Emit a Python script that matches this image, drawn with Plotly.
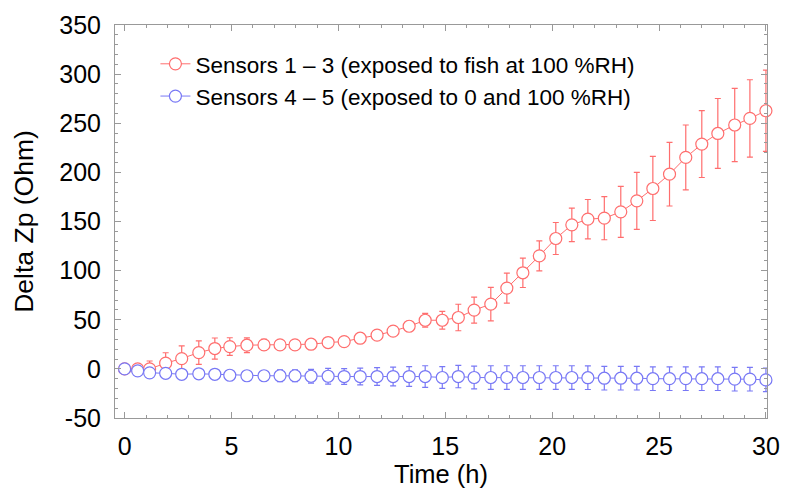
import plotly.graph_objects as go

time_h = [0, 0.61, 1.17, 1.92, 2.67, 3.47, 4.22, 4.92, 5.72, 6.52, 7.27, 7.97, 8.72, 9.52,
          10.27, 11.02, 11.81, 12.56, 13.31, 14.06, 14.86, 15.61, 16.35, 17.13, 17.88, 18.63,
          19.40, 20.17, 20.92, 21.67, 22.44, 23.21, 23.96, 24.71, 25.49, 26.25, 27.00, 27.75,
          28.54, 29.25, 30.0]

fish_mean = [0, 0, 0, 5.8, 10.5, 16.6, 20.7, 22.7, 24.1, 24.4, 24.4, 24.4, 25.1, 26.8,
             27.8, 31.2, 34.3, 38.4, 43.4, 49.5, 49.5, 52.3, 59.8, 65.9, 82.2, 97.8,
             115, 132.7, 146.6, 152.4, 153.4, 159.8, 171, 183.6, 198.2, 215.2, 228.8, 239.6,
             248.2, 254.9, 262.7]
fish_err = [0, 2, 8, 10.6, 13, 12, 10.7, 9, 7.5, 5.7, 4, 3, 3, 3,
            3, 3, 4, 4, 5, 7, 9, 13.5, 13.3, 17, 15.3, 15,
            15.3, 16.3, 17, 20, 22, 26, 29, 32.6, 32.4, 33, 34, 35.6,
            37.3, 39.4, 41.4]

ctrl_mean = [0, -2, -4, -4.5, -5.5, -5, -5.5, -6.5, -7, -7, -7, -7, -7.5, -7.5,
             -7.8, -7.8, -7.8, -7.8, -7.8, -7.8, -8.8, -7.8, -8.8, -8.8, -8.8, -8.8,
             -8.8, -8.8, -8.8, -9, -9.5, -9.5, -9.5, -10, -10, -10, -10, -10,
             -10.5, -10.5, -11.2]
ctrl_err = [0, 0.5, 1, 1, 1, 1, 1.5, 2, 4, 5, 6, 6, 7, 8,
            8, 8.5, 9, 9.5, 10, 11, 11, 11.4, 11.5, 12, 12, 12,
            12, 12, 12, 12, 12, 12, 12, 12, 12, 12, 12, 12,
            12, 12, 12]

y_tickvals = [-50, 0, 50, 100, 150, 200, 250, 300, 350]
y_ticktext = ["-50", "0", "50", "100", "150", "200", "250", "300", "350"]
x_tickvals = [0, 5, 10, 15, 20, 25, 30]

red = "rgb(255,110,110)"
blue = "rgb(120,120,245)"
FONT = "Liberation Sans, Arial, sans-serif"

fig = go.Figure()
fig.add_trace(go.Scatter(
    x=time_h, y=fish_mean, mode="lines+markers", cliponaxis=False,
    name="Sensors 1 \u2013 3 (exposed to fish at 100 %RH)", legendgroup="a",
    line=dict(color=red, width=1),
    marker=dict(symbol="circle", size=12, color="white", line=dict(color=red, width=1.2)),
    error_y=dict(type="data", array=fish_err, visible=True, color=red, thickness=1.2, width=3),
))
fig.add_trace(go.Scatter(
    x=time_h, y=ctrl_mean, mode="lines+markers", cliponaxis=False,
    name="Sensors 4 \u2013 5 (exposed to 0 and 100 %RH)", legendgroup="b",
    line=dict(color=blue, width=1),
    marker=dict(symbol="circle", size=12, color="white", line=dict(color=blue, width=1.2)),
    error_y=dict(type="data", array=ctrl_err, visible=True, color=blue, thickness=1.2, width=3),
))

axis_common = dict(
    showline=True, linecolor="#999999", linewidth=1, mirror="allticks",
    ticks="inside", ticklen=6, tickcolor="#999999", showgrid=False, zeroline=False,
    tickfont=dict(family=FONT, size=25, color="black"), automargin=False,
)

fig.update_layout(
    width=785, height=489,
    margin=dict(l=115, r=18, t=25, b=71),
    paper_bgcolor="white", plot_bgcolor="white",
    font=dict(family=FONT, color="black"),
    showlegend=True,
    legend=dict(x=0.062, y=0.955, xanchor="left", yanchor="top",
                bgcolor="rgba(0,0,0,0)", font=dict(size=22.5, color="black"),
                traceorder="grouped", tracegroupgap=0, itemwidth=30),
    xaxis=dict(range=[-0.45, 30.05], tickvals=x_tickvals,
               minor=dict(dtick=1, ticks="inside", ticklen=3, tickcolor="#999999"),
               ticklabelstandoff=6,
               title=dict(text="Time (h)", font=dict(size=25.5), standoff=6),
               **axis_common),
    yaxis=dict(range=[-50, 350], tickvals=y_tickvals, ticktext=y_ticktext,
               minor=dict(dtick=10, ticks="inside", ticklen=3, tickcolor="#999999"),
               ticklabelstandoff=8,
               title=dict(text="Delta Zp (Ohm)", font=dict(size=26.5), standoff=18),
               **axis_common),
)

fig.write_html("out.html")
